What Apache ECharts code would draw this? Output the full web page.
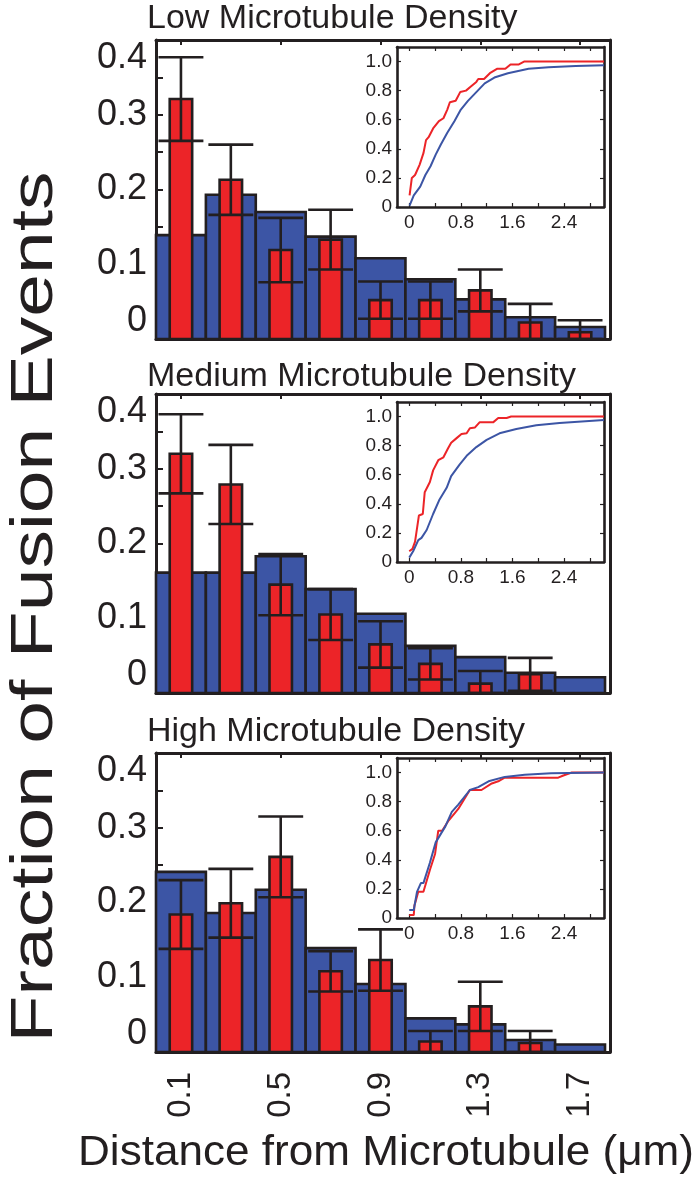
<!DOCTYPE html>
<html>
<head>
<meta charset="utf-8">
<script src="https://cdn.jsdelivr.net/npm/echarts@6/dist/echarts.min.js"></script>
<style>
  html, body { margin: 0; padding: 0; background: #ffffff; }
  #chart { width: 699px; height: 1179px; }
</style>
</head>
<body>
<div id="chart"></div>
<script>
// ---- data ---------------------------------------------------------------
// histogram bin centres (µm from the nearest microtubule)
const BIN_CENTERS = [0.1, 0.3, 0.5, 0.7, 0.9, 1.1, 1.3, 1.5, 1.7];
const X_TICKS = [0.1, 0.5, 0.9, 1.3, 1.7];
const Y_LABELS = [0, 0.1, 0.2, 0.3, 0.4];
const INSET_X_LABELS = [0, 0.8, 1.6, 2.4];
const INSET_X_TICKS = [0, 0.4, 0.8, 1.2, 1.6, 2.0, 2.4, 2.8];
const INSET_Y_LABELS = [0, 0.2, 0.4, 0.6, 0.8, 1.0];

const TITLES = ['Low Microtubule Density', 'Medium Microtubule Density', 'High Microtubule Density'];

// low density: all positions (blue), fusion events (red) with error
const LOW_ALL  = [0.139, 0.193, 0.170, 0.137, 0.108, 0.080, 0.053, 0.029, 0.016];
const LOW_FUS  = [0.321, 0.213, 0.119, 0.133, 0.052, 0.052, 0.065, 0.022, 0.009];
const LOW_ERR  = [0.056, 0.047, 0.043, 0.040, 0.025, 0.025, 0.028, 0.025, 0.016];

// medium density
const MED_ALL  = [0.161, 0.161, 0.183, 0.139, 0.106, 0.063, 0.048, 0.027, 0.021];
const MED_FUS  = [0.320, 0.279, 0.145, 0.105, 0.065, 0.039, 0.0125, 0.025, null];
const MED_ERR  = [0.053, 0.053, 0.041, 0.034, 0.031, 0.021, 0.017, 0.022, null];

// high density
const HIGH_ALL = [0.241, 0.186, 0.217, 0.139, 0.091, 0.045, 0.037, 0.016, 0.010];
const HIGH_FUS = [0.184, 0.199, 0.261, 0.108, 0.123, 0.014, 0.061, 0.012, null];
const HIGH_ERR = [0.046, 0.046, 0.054, 0.027, 0.041, 0.014, 0.033, 0.016, null];

// cumulative distributions [distance, fraction]
const LOW_FUS_CDF = [[0.005,0.08],[0.04,0.20],[0.09,0.22],[0.16,0.29],[0.22,0.37],[0.26,0.46],[0.30,0.48],
  [0.37,0.54],[0.46,0.59],[0.53,0.61],[0.59,0.67],[0.63,0.72],[0.72,0.73],[0.79,0.79],[0.88,0.80],
  [0.96,0.83],[1.04,0.86],[1.07,0.88],[1.16,0.88],[1.25,0.92],[1.36,0.95],[1.49,0.95],[1.57,0.98],
  [1.70,0.98],[1.78,1.0],[3.02,1.0]];
const LOW_ALL_CDF = [[0.005,0.01],[0.07,0.08],[0.17,0.14],[0.25,0.22],[0.33,0.28],[0.41,0.36],[0.49,0.43],
  [0.59,0.51],[0.70,0.59],[0.80,0.67],[0.91,0.73],[1.04,0.79],[1.17,0.85],[1.32,0.89],[1.53,0.92],
  [1.85,0.95],[2.16,0.96],[2.58,0.97],[3.02,0.975]];

const MED_FUS_CDF = [[0.0,0.074],[0.05,0.09],[0.09,0.14],[0.15,0.32],[0.21,0.33],[0.24,0.48],[0.32,0.55],
  [0.37,0.63],[0.45,0.70],[0.53,0.72],[0.60,0.78],[0.65,0.82],[0.73,0.85],[0.81,0.88],[0.89,0.885],
  [0.94,0.92],[1.02,0.925],[1.09,0.96],[1.30,0.96],[1.38,0.99],[1.51,0.99],[1.58,1.0],[3.02,1.0]];
const MED_ALL_CDF = [[0.0,0.03],[0.06,0.074],[0.14,0.15],[0.19,0.166],[0.27,0.22],[0.37,0.33],[0.47,0.43],
  [0.58,0.51],[0.65,0.59],[0.78,0.67],[0.89,0.73],[1.04,0.79],[1.20,0.84],[1.40,0.885],[1.66,0.915],
  [1.97,0.94],[2.33,0.955],[3.02,0.977]];

const HIGH_FUS_CDF = [[0.0,0.02],[0.07,0.02],[0.08,0.085],[0.14,0.18],[0.22,0.18],[0.32,0.33],[0.40,0.44],
  [0.45,0.60],[0.51,0.60],[0.61,0.67],[0.76,0.75],[0.94,0.88],[1.12,0.88],[1.28,0.925],[1.38,0.94],
  [1.48,0.965],[2.31,0.965],[2.39,0.98],[2.52,1.0],[3.02,1.0]];
const HIGH_ALL_CDF = [[0.0,0.055],[0.07,0.055],[0.12,0.18],[0.18,0.24],[0.22,0.24],[0.32,0.38],[0.41,0.52],
  [0.56,0.63],[0.66,0.73],[0.76,0.78],[0.94,0.88],[1.07,0.90],[1.23,0.94],[1.48,0.97],[1.79,0.985],
  [2.20,0.995],[3.02,1.0]];

// ---- styling ------------------------------------------------------------
const INK = '#231f20';
const BLUE = '#3c55a5';
const RED = '#ec2428';
const FONT = '"Liberation Sans", Arial, Helvetica, sans-serif';
const X_MAX = 1.82;
const BIN_W = 0.2;      // width of the blue bins (x units)
const FUS_W = 0.09;     // width of the red bars (x units)
const CAP_HALF = 0.09;  // half width of the error caps (x units)

const PANELS = [
  { top: 40,  all: LOW_ALL,  fus: LOW_FUS,  err: LOW_ERR,  fusCdf: LOW_FUS_CDF,  allCdf: LOW_ALL_CDF,  insetTop: 47,  titleMid: 19 },
  { top: 394, all: MED_ALL,  fus: MED_FUS,  err: MED_ERR,  fusCdf: MED_FUS_CDF,  allCdf: MED_ALL_CDF,  insetTop: 402, titleMid: 377 },
  { top: 753, all: HIGH_ALL, fus: HIGH_FUS, err: HIGH_ERR, fusCdf: HIGH_FUS_CDF, allCdf: HIGH_ALL_CDF, insetTop: 758, titleMid: 732 }
];

function fmt(v) { return v === 0 ? '0' : v.toFixed(1); }

function barRenderer(width, fill) {
  return function (params, api) {
    const x = api.value(0), v = api.value(1);
    const a = api.coord([x - width / 2, 0]);
    const b = api.coord([x + width / 2, v]);
    return {
      type: 'rect',
      shape: { x: a[0], y: b[1], width: b[0] - a[0], height: a[1] - b[1] },
      style: { fill: fill, stroke: INK, lineWidth: 2.6 }
    };
  };
}

function errRenderer(params, api) {
  const x = api.value(0), v = api.value(1), e = api.value(2);
  const lo = Math.max(0, v - e), hi = v + e;
  const pLo = api.coord([x, lo]), pHi = api.coord([x, hi]);
  const l = api.coord([x - CAP_HALF, hi])[0], r = api.coord([x + CAP_HALF, hi])[0];
  const st = { stroke: INK, lineWidth: 2.6 };
  return {
    type: 'group',
    children: [
      { type: 'line', shape: { x1: pLo[0], y1: pLo[1], x2: pHi[0], y2: pHi[1] }, style: st },
      { type: 'line', shape: { x1: l, y1: pHi[1], x2: r, y2: pHi[1] }, style: st },
      { type: 'line', shape: { x1: l, y1: pLo[1], x2: r, y2: pLo[1] }, style: st }
    ]
  };
}

const grid = [], xAxis = [], yAxis = [], series = [], graphic = [];

PANELS.forEach(function (p, i) {
  const last = i === PANELS.length - 1;

  // main histogram panel
  const g = grid.length;
  grid.push({ left: 156, top: p.top, width: 454, height: 299, containLabel: false });
  const xb = xAxis.length;
  xAxis.push({
    gridIndex: g, type: 'value', min: 0, max: X_MAX, position: 'bottom',
    axisLine: { show: true, onZero: false, lineStyle: { color: INK, width: 3 } },
    axisTick: { show: false },
    splitLine: { show: false },
    axisLabel: last ? {
      show: true, customValues: X_TICKS, rotate: 90, margin: 20, formatter: fmt,
      fontSize: 33, fontFamily: FONT, color: INK
    } : { show: false }
  });
  xAxis.push({
    gridIndex: g, type: 'value', min: 0, max: X_MAX, position: 'top',
    axisLine: { show: true, onZero: false, lineStyle: { color: INK, width: 3 } },
    axisTick: { show: true, inside: true, length: 5, customValues: X_TICKS, lineStyle: { color: INK, width: 2 } },
    axisLabel: { show: false }, splitLine: { show: false }
  });
  const yl = yAxis.length;
  yAxis.push({
    gridIndex: g, type: 'value', min: 0, max: 0.4, interval: 0.05, position: 'left',
    axisLine: { show: true, onZero: false, lineStyle: { color: INK, width: 3 } },
    axisTick: { show: true, inside: true, length: 7, lineStyle: { color: INK, width: 2 } },
    splitLine: { show: false },
    axisLabel: {
      customValues: Y_LABELS, formatter: fmt, margin: 9,
      fontSize: 36, fontFamily: FONT, color: INK,
      verticalAlignMinLabel: 'bottom', verticalAlignMaxLabel: 'top'
    }
  });
  yAxis.push({
    gridIndex: g, type: 'value', min: 0, max: 0.4, position: 'right',
    axisLine: { show: true, onZero: false, lineStyle: { color: INK, width: 3 } },
    axisTick: { show: false }, axisLabel: { show: false }, splitLine: { show: false }
  });

  series.push({
    type: 'custom', xAxisIndex: xb, yAxisIndex: yl, renderItem: barRenderer(BIN_W, BLUE),
    data: BIN_CENTERS.map(function (x, k) { return [x, p.all[k]]; }), z: 2
  });
  const fusData = [];
  BIN_CENTERS.forEach(function (x, k) { if (p.fus[k] != null) fusData.push([x, p.fus[k], p.err[k]]); });
  series.push({
    type: 'custom', xAxisIndex: xb, yAxisIndex: yl, renderItem: barRenderer(FUS_W, RED),
    data: fusData, z: 3
  });
  series.push({
    type: 'custom', xAxisIndex: xb, yAxisIndex: yl, renderItem: errRenderer,
    data: fusData, z: 4
  });

  // inset: cumulative distributions
  const gi = grid.length;
  grid.push({ left: 397, top: p.insetTop, width: 207, height: 160, show: true, backgroundColor: '#ffffff', borderWidth: 0, z: 5 });
  const ixb = xAxis.length;
  xAxis.push({
    gridIndex: gi, type: 'value', min: -0.19, max: 3.02, position: 'bottom', z: 6,
    axisLine: { show: true, onZero: false, lineStyle: { color: INK, width: 2.6 } },
    axisTick: { show: true, inside: true, length: 4, customValues: INSET_X_TICKS, lineStyle: { color: INK, width: 1.2 } },
    axisLabel: { customValues: INSET_X_LABELS, formatter: fmt, margin: 6, fontSize: 19, fontFamily: FONT, color: INK },
    splitLine: { show: false }
  });
  xAxis.push({
    gridIndex: gi, type: 'value', min: -0.19, max: 3.02, position: 'top', z: 6,
    axisLine: { show: true, onZero: false, lineStyle: { color: INK, width: 2.6 } },
    axisTick: { show: true, inside: true, length: 4, customValues: INSET_X_TICKS, lineStyle: { color: INK, width: 1.2 } },
    axisLabel: { show: false }, splitLine: { show: false }
  });
  const iyl = yAxis.length;
  yAxis.push({
    gridIndex: gi, type: 'value', min: 0, max: 1.1, position: 'left', z: 6,
    axisLine: { show: true, onZero: false, lineStyle: { color: INK, width: 2.6 } },
    axisTick: { show: true, inside: true, length: 4, customValues: INSET_Y_LABELS, lineStyle: { color: INK, width: 1.2 } },
    axisLabel: { customValues: INSET_Y_LABELS, formatter: fmt, margin: 5, fontSize: 19, fontFamily: FONT, color: INK },
    splitLine: { show: false }
  });
  yAxis.push({
    gridIndex: gi, type: 'value', min: 0, max: 1.1, position: 'right', z: 6,
    axisLine: { show: true, onZero: false, lineStyle: { color: INK, width: 2.6 } },
    axisTick: { show: true, inside: true, length: 4, customValues: INSET_Y_LABELS, lineStyle: { color: INK, width: 1.2 } },
    axisLabel: { show: false }, splitLine: { show: false }
  });
  series.push({
    type: 'line', xAxisIndex: ixb, yAxisIndex: iyl, data: p.fusCdf, showSymbol: false, z: 7,
    lineStyle: { color: RED, width: 2 }, itemStyle: { color: RED }
  });
  series.push({
    type: 'line', xAxisIndex: ixb, yAxisIndex: iyl, data: p.allCdf, showSymbol: false, z: 8,
    lineStyle: { color: BLUE, width: 2 }, itemStyle: { color: BLUE }
  });

  // panel heading
  graphic.push({
    type: 'text', x: 147, y: p.titleMid, z: 10,
    style: { text: TITLES[i], font: '34px ' + FONT, fill: INK, textAlign: 'left', textVerticalAlign: 'middle' }
  });
});

// shared axis titles (set slightly wide, as in the printed figure)
graphic.push({
  type: 'text', x: 35, y: 607, rotation: Math.PI / 2, scaleX: 1.28, z: 10,
  style: { text: 'Fraction of Fusion Events', font: '60px ' + FONT, fill: INK, textAlign: 'center', textVerticalAlign: 'middle' }
});
graphic.push({
  type: 'text', x: 386, y: 1153, scaleX: 1.05, z: 10,
  style: { text: 'Distance from Microtubule (\u03bcm)', font: '42px ' + FONT, fill: INK, textAlign: 'center', textVerticalAlign: 'middle' }
});

const chart = echarts.init(document.getElementById('chart'), null, { renderer: 'canvas', width: 699, height: 1179 });
chart.setOption({
  backgroundColor: '#ffffff',
  animation: false,
  grid: grid,
  xAxis: xAxis,
  yAxis: yAxis,
  series: series,
  graphic: graphic
});
</script>
</body>
</html>
